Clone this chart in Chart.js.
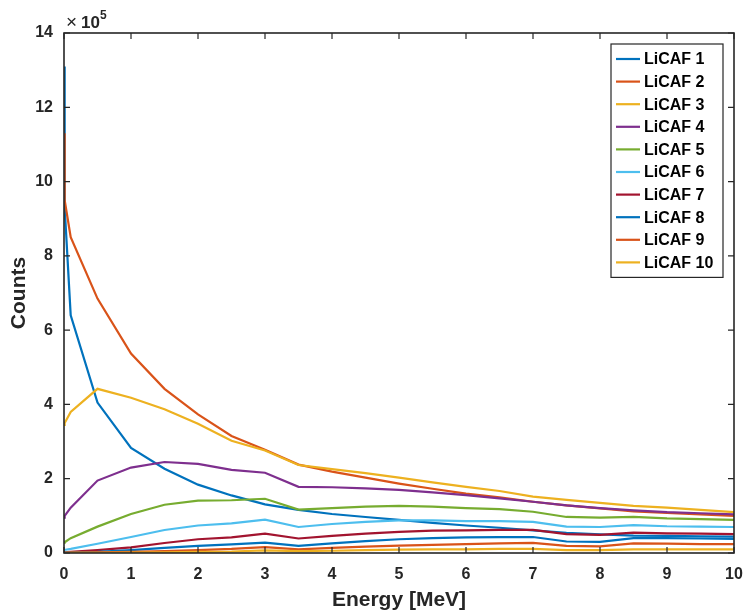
<!DOCTYPE html>
<html>
<head>
<meta charset="utf-8">
<script src="https://cdn.jsdelivr.net/npm/chart.js@4.4.0/dist/chart.umd.min.js"></script>
<style>
  html, body { margin: 0; padding: 0; background: #fff; }
  #wrap { width: 746px; height: 615px; position: relative; }
</style>
</head>
<body>
<div id="wrap"><canvas id="c" width="746" height="615"></canvas></div>
<script>
// Energy bins [MeV]
const energy = [0, 0.01, 0.1, 0.5, 1, 1.5, 2, 2.5, 3, 3.5, 4, 4.5, 5, 5.5, 6, 6.5, 7, 7.5, 8, 8.5, 9, 9.5, 10];
// Counts in units of 10^5
const licaf1 = [13.1, 9.3, 6.4, 4.05, 2.83, 2.27, 1.84, 1.55, 1.31, 1.16, 1.05, 0.97, 0.89, 0.81, 0.74, 0.68, 0.61, 0.54, 0.5, 0.47, 0.46, 0.45, 0.44];
const licaf2 = [11.3, 9.5, 8.5, 6.85, 5.37, 4.42, 3.73, 3.15, 2.78, 2.38, 2.19, 2.03, 1.87, 1.73, 1.6, 1.5, 1.38, 1.28, 1.2, 1.12, 1.08, 1.04, 1.0];
const licaf3 = [3.45, 3.5, 3.8, 4.42, 4.18, 3.87, 3.48, 3.02, 2.76, 2.37, 2.26, 2.15, 2.03, 1.9, 1.78, 1.67, 1.52, 1.43, 1.35, 1.27, 1.22, 1.16, 1.1];
const licaf4 = [0.95, 1.0, 1.22, 1.95, 2.3, 2.45, 2.4, 2.24, 2.16, 1.78, 1.77, 1.74, 1.7, 1.63, 1.56, 1.47, 1.38, 1.28, 1.21, 1.15, 1.1, 1.07, 1.04];
const licaf5 = [0.28, 0.29, 0.4, 0.71, 1.05, 1.3, 1.41, 1.42, 1.46, 1.17, 1.21, 1.25, 1.27, 1.25, 1.21, 1.18, 1.11, 0.97, 0.95, 0.97, 0.93, 0.91, 0.89];
const licaf6 = [0.08, 0.08, 0.11, 0.25, 0.43, 0.62, 0.74, 0.8, 0.9, 0.7, 0.78, 0.84, 0.88, 0.88, 0.86, 0.86, 0.84, 0.71, 0.7, 0.75, 0.72, 0.71, 0.7];
const licaf7 = [0.02, 0.02, 0.03, 0.08, 0.15, 0.27, 0.37, 0.42, 0.52, 0.39, 0.46, 0.52, 0.57, 0.6, 0.61, 0.62, 0.62, 0.51, 0.49, 0.55, 0.53, 0.52, 0.51];
const licaf8 = [0.01, 0.01, 0.01, 0.03, 0.08, 0.14, 0.19, 0.23, 0.28, 0.19, 0.26, 0.32, 0.37, 0.4, 0.42, 0.43, 0.43, 0.31, 0.3, 0.4, 0.4, 0.39, 0.38];
const licaf9 = [0.005, 0.005, 0.01, 0.02, 0.03, 0.05, 0.08, 0.11, 0.16, 0.1, 0.14, 0.17, 0.2, 0.22, 0.24, 0.26, 0.27, 0.19, 0.18, 0.26, 0.25, 0.24, 0.24];
const licaf10 = [0.002, 0.002, 0.003, 0.005, 0.01, 0.02, 0.03, 0.04, 0.07, 0.05, 0.06, 0.08, 0.09, 0.1, 0.1, 0.11, 0.11, 0.08, 0.08, 0.1, 0.1, 0.1, 0.1];

const seriesNames = ['LiCAF 1','LiCAF 2','LiCAF 3','LiCAF 4','LiCAF 5','LiCAF 6','LiCAF 7','LiCAF 8','LiCAF 9','LiCAF 10'];
const seriesValues = [licaf1, licaf2, licaf3, licaf4, licaf5, licaf6, licaf7, licaf8, licaf9, licaf10];
const seriesColors = ['#0072BD','#D95319','#EDB120','#7E2F8E','#77AC30','#4DBEEE','#A2142F','#0072BD','#D95319','#EDB120'];
const xTicks = [0,1,2,3,4,5,6,7,8,9,10];
const yTicks = [0,2,4,6,8,10,12,14];

const AX = '#262626';
const FONT = "'Liberation Sans', Arial, Helvetica, sans-serif";

const datasets = seriesNames.map((name, i) => ({
  label: name,
  data: energy.map((e, j) => ({x: e, y: seriesValues[i][j]})),
  borderColor: seriesColors[i],
  backgroundColor: seriesColors[i],
  borderWidth: 2.2,
  pointRadius: 0,
  tension: 0,
  fill: false,
  order: seriesNames.length - i
}));

const boxPlugin = {
  id: 'matlabBox',
  afterDraw(chart) {
    const {ctx, chartArea: a, scales: {x, y}} = chart;
    ctx.save();
    ctx.strokeStyle = AX;
    ctx.lineWidth = 1.6;
    ctx.strokeRect(a.left, a.top, a.right - a.left, a.bottom - a.top);
    ctx.lineWidth = 1.2;
    const tl = 6;
    ctx.beginPath();
    xTicks.forEach(v => {
      const px = x.getPixelForValue(v);
      ctx.moveTo(px, a.bottom); ctx.lineTo(px, a.bottom - tl);
      ctx.moveTo(px, a.top); ctx.lineTo(px, a.top + tl);
    });
    yTicks.forEach(v => {
      const py = y.getPixelForValue(v);
      ctx.moveTo(a.left, py); ctx.lineTo(a.left + tl, py);
      ctx.moveTo(a.right, py); ctx.lineTo(a.right - tl, py);
    });
    ctx.stroke();

    // exponent label
    ctx.fillStyle = AX;
    ctx.textBaseline = 'alphabetic';
    ctx.textAlign = 'left';
    ctx.font = "19px " + FONT;
    ctx.fillText('\u00D7', a.left + 2, a.top - 5);
    ctx.font = "bold 17px " + FONT;
    ctx.fillText('10', a.left + 17, a.top - 5);
    ctx.font = "bold 12px " + FONT;
    ctx.fillText('5', a.left + 36, a.top - 14);

    // legend
    const lx = 611, ly = 44, lw = 112, step = 22.6;
    const lh = 30 + step * (seriesNames.length - 1);
    ctx.fillStyle = '#fff';
    ctx.fillRect(lx, ly, lw, lh);
    ctx.strokeStyle = AX;
    ctx.lineWidth = 1.2;
    ctx.strokeRect(lx, ly, lw, lh);
    ctx.font = "bold 16px " + FONT;
    ctx.textBaseline = 'middle';
    chart.data.datasets.forEach((ds, i) => {
      const cy = ly + 15 + i * step;
      ctx.strokeStyle = ds.borderColor;
      ctx.lineWidth = 2.2;
      ctx.beginPath();
      ctx.moveTo(lx + 5, cy); ctx.lineTo(lx + 29, cy);
      ctx.stroke();
      ctx.fillStyle = '#000';
      ctx.fillText(ds.label, lx + 33, cy + 1);
    });
    ctx.restore();
  }
};

new Chart(document.getElementById('c'), {
  type: 'line',
  data: { datasets },
  options: {
    responsive: false,
    animation: false,
    devicePixelRatio: 1,
    layout: { padding: { left: 0, right: 12, top: 33, bottom: 0 } },
    plugins: { legend: { display: false }, tooltip: { enabled: false } },
    scales: {
      x: {
        type: 'linear', min: 0, max: 10,
        afterBuildTicks: s => { s.ticks = xTicks.map(v => ({value: v})); },
        afterFit: s => { s.height = 62; s.paddingLeft = 0; s.paddingRight = 0; },
        grid: { display: false, drawTicks: false },
        border: { display: false },
        ticks: { color: AX, padding: 12, font: { family: FONT, size: 16, weight: 'bold' }, maxRotation: 0 },
        title: { display: true, text: 'Energy [MeV]', color: AX, padding: { top: 0, bottom: 2 },
                 font: { family: FONT, size: 21, weight: 'bold' } }
      },
      y: {
        type: 'linear', min: 0, max: 14,
        afterBuildTicks: s => { s.ticks = yTicks.map(v => ({value: v})); },
        afterFit: s => { s.width = 64; s.paddingTop = 0; s.paddingBottom = 0; },
        grid: { display: false, drawTicks: false },
        border: { display: false },
        ticks: { color: AX, padding: 11, font: { family: FONT, size: 16, weight: 'bold' } },
        title: { display: true, text: 'Counts', color: AX, padding: { top: 7, bottom: 0 },
                 font: { family: FONT, size: 21, weight: 'bold' } }
      }
    }
  },
  plugins: [boxPlugin]
});
</script>
</body>
</html>
